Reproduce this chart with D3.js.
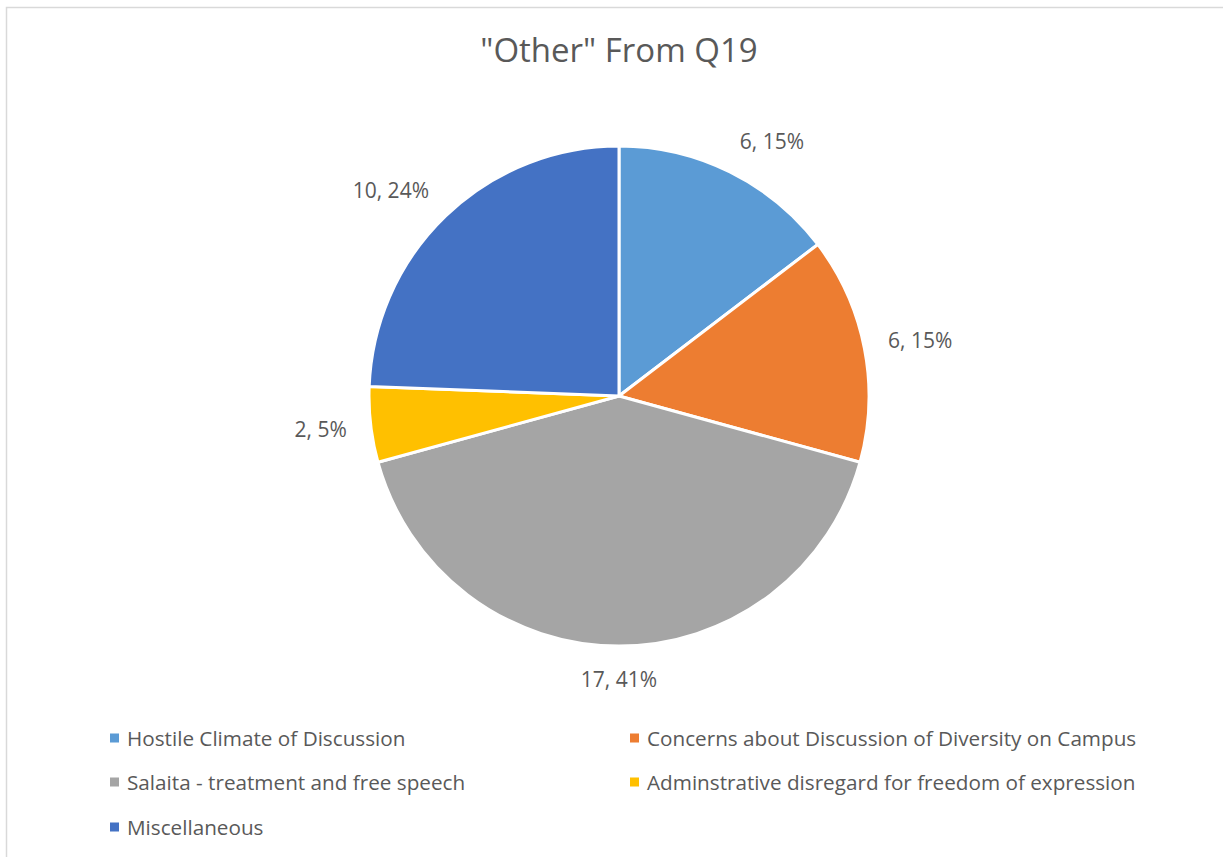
<!DOCTYPE html>
<html>
<head>
<meta charset="utf-8">
<script src="https://cdn.jsdelivr.net/npm/d3@7"></script>
<style>
  html, body { margin: 0; padding: 0; background: #fff; }
  svg { display: block; }
  text { font-family: "Open Sans", "Noto Sans", sans-serif; fill: #595959; }
</style>
</head>
<body>
<svg id="chart" width="1223" height="857"></svg>
<script>
// Responses categorised from the "Other" option of Q19
const categories = [
  "Hostile Climate of Discussion",
  "Concerns about Discussion of Diversity on Campus",
  "Salaita - treatment and free speech",
  "Adminstrative disregard for freedom of expression",
  "Miscellaneous"
];
const counts = [6, 6, 17, 2, 10];
const sliceColors = ["#5B9BD5", "#ED7D31", "#A5A5A5", "#FFC000", "#4472C4"];
const chartTitle = "\"Other\" From Q19";

const svg = d3.select("#chart");
const W = 1223, H = 857;

// chart area frame
svg.append("rect")
  .attr("x", 6.5).attr("y", 7.5)
  .attr("width", W + 10).attr("height", H + 10)
  .attr("fill", "#fff")
  .attr("stroke", "#d9d9d9").attr("stroke-width", 1.5);

// title
svg.append("text")
  .attr("x", 619).attr("y", 62)
  .attr("text-anchor", "middle")
  .style("font-size", "33px")
  .text(chartTitle);

const cx = 619, cy = 396, R = 250;
const total = d3.sum(counts);
const data = categories.map((c, i) => ({ name: c, value: counts[i], color: sliceColors[i] }));

const pie = d3.pie().value(d => d.value).sort(null);
const arcs = pie(data);
const arc = d3.arc().innerRadius(0).outerRadius(R);

const g = svg.append("g").attr("transform", `translate(${cx},${cy})`);
g.selectAll("path.slice")
  .data(arcs)
  .join("path")
  .attr("class", "slice")
  .attr("d", arc)
  .attr("fill", d => d.data.color)
  .attr("stroke", "#fff")
  .attr("stroke-width", 3)
  .attr("stroke-linejoin", "round");

// data labels, placed just outside each slice
const pct = v => Math.round(v / total * 100) + "%";
const clamp = t => Math.max(-1, Math.min(1, t));
const labelR = R + 24;
arcs.forEach(d => {
  const a = (d.startAngle + d.endAngle) / 2;
  const s = Math.sin(a), c = Math.cos(a);
  const px = labelR * s, py = -labelR * c;
  const t = g.append("text")
    .style("font-size", "21px")
    .attr("text-anchor", "middle")
    .attr("dominant-baseline", "central")
    .text(`${d.data.value}, ${pct(d.data.value)}`);
  const bb = t.node().getBBox();
  const w = bb.width, h = 18;
  t.attr("x", px + clamp(s * 2.2) * w / 2)
   .attr("y", py - clamp(c * 2) * h / 2);
});

// legend: two columns, three rows
const legendCols = [110, 630];
const legendRows = [738, 782, 827];
const lg = svg.append("g");
data.forEach((d, i) => {
  const x = legendCols[i % 2], y = legendRows[Math.floor(i / 2)];
  lg.append("rect")
    .attr("x", x).attr("y", y - 4.5)
    .attr("width", 9).attr("height", 9)
    .attr("fill", d.color);
  lg.append("text")
    .attr("x", x + 17).attr("y", y)
    .attr("dominant-baseline", "central")
    .style("font-size", "20.7px")
    .text(d.name);
});
</script>
</body>
</html>
